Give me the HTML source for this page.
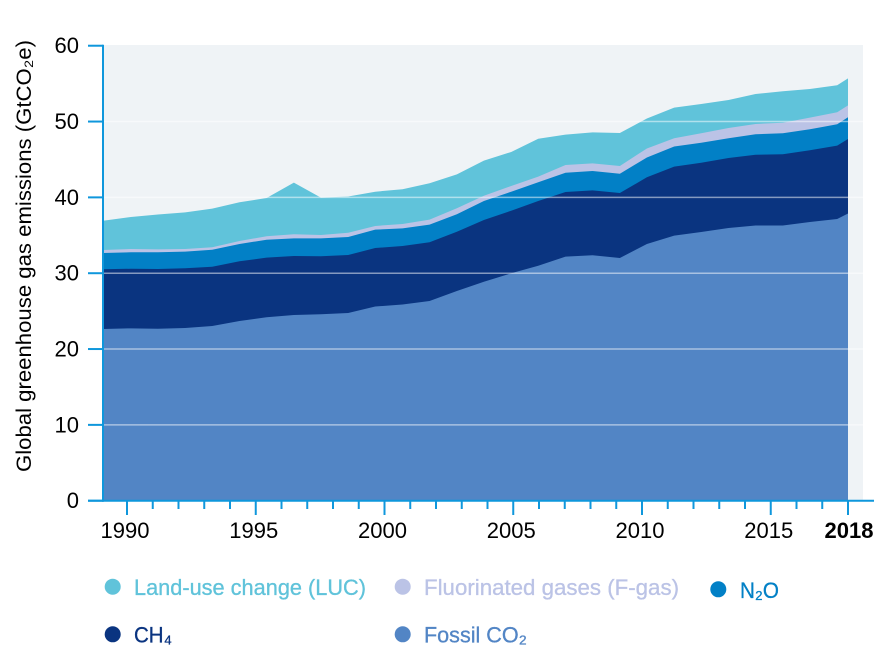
<!DOCTYPE html>
<html lang="en">
<head>
<meta charset="utf-8">
<title>Global greenhouse gas emissions</title>
<style>
  html, body { margin: 0; padding: 0; background: #ffffff; }
  body { width: 881px; height: 664px; overflow: hidden; }
  svg { display: block; font-family: "Liberation Sans", "DejaVu Sans", sans-serif; }
</style>
</head>
<body>
<svg id="chart" xmlns="http://www.w3.org/2000/svg" width="881" height="664" viewBox="0 0 881 664"></svg>
<script>
const sampleYears = [1989.07,1990.15,1991.20,1992.26,1993.31,1994.37,1995.42,1996.48,1997.53,1998.59,1999.64,2000.70,2001.75,2002.81,2003.86,2004.92,2005.97,2007.03,2008.08,2009.14,2010.19,2011.25,2012.30,2013.36,2014.41,2015.47,2016.52,2017.58,2018.00];
const fossilCo2 = [22.64,22.73,22.68,22.77,23.04,23.70,24.19,24.49,24.58,24.75,25.61,25.87,26.34,27.65,28.88,29.99,30.99,32.18,32.36,32.01,33.85,34.95,35.43,35.96,36.29,36.29,36.75,37.15,37.87];
const ch4 = [7.88,7.86,7.88,7.88,7.82,7.87,7.86,7.78,7.65,7.65,7.71,7.72,7.74,7.82,8.14,8.25,8.53,8.53,8.57,8.57,8.80,9.10,9.14,9.23,9.34,9.39,9.46,9.67,9.83];
const n2o = [2.15,2.17,2.20,2.19,2.24,2.28,2.37,2.33,2.37,2.38,2.42,2.33,2.32,2.30,2.50,2.51,2.47,2.54,2.55,2.54,2.61,2.66,2.64,2.60,2.69,2.77,2.77,2.82,2.86];
const fGas = [0.39,0.43,0.39,0.35,0.32,0.40,0.45,0.53,0.44,0.56,0.49,0.57,0.66,0.79,0.70,0.75,0.74,1.02,1.01,1.02,1.19,1.08,1.24,1.36,1.36,1.40,1.53,1.58,1.58];
const landUse = [3.86,4.22,4.59,4.84,5.09,5.10,5.05,6.81,4.92,4.78,4.52,4.58,4.80,4.48,4.62,4.49,5.01,4.00,4.09,4.35,3.95,4.04,3.86,3.69,3.95,4.14,3.78,3.56,3.56];
const yTicks = [0,10,20,30,40,50,60];
const xMajorTicks = [1990,1995,2000,2005,2010,2015,2018];
const xMinorTicks = [1991,1992,1993,1994,1996,1997,1998,1999,2001,2002,2003,2004,2006,2007,2008,2009,2011,2012,2013,2014,2016,2017];

const NS = 'http://www.w3.org/2000/svg';
const svg = document.getElementById('chart');
const AXIS = '#0f97dc';
const FONT_PX = 22;

function xScale(year) { return 127 + (year - 1990) * 25.75; }
function yScale(value) { return 500.7 - value * 7.583; }

function make(tag, attrs, text) {
  const el = document.createElementNS(NS, tag);
  for (const key in attrs) { el.setAttribute(key, attrs[key]); }
  if (text !== undefined) { el.textContent = text; }
  svg.appendChild(el);
  return el;
}

const plotBg = make('rect', { x: 103, y: 45, width: 760, height: 456, fill: '#eff3f6' });



const bands = [
  { name: 'area-fossil-co2', values: fossilCo2, color: '#5285c5' },
  { name: 'area-ch4', values: ch4, color: '#0a3480' },
  { name: 'area-n2o', values: n2o, color: '#0280c6' },
  { name: 'area-f-gas', values: fGas, color: '#bbc3e6' },
  { name: 'area-land-use-change', values: landUse, color: '#60c3da' }
];

// cumulative tops, then paint from the tallest band down so no seams show
const running = sampleYears.map(() => 0);
const stacked = bands.map(band => {
  band.values.forEach((v, i) => { running[i] += v; });
  return { name: band.name, color: band.color, tops: running.slice() };
});
stacked.slice().reverse().forEach(band => {
  let d = 'M' + xScale(sampleYears[0]).toFixed(2) + ' ' + yScale(0).toFixed(2);
  band.tops.forEach((v, i) => {
    d += 'L' + xScale(sampleYears[i]).toFixed(2) + ' ' + yScale(v).toFixed(2);
  });
  d += 'L' + xScale(sampleYears[sampleYears.length - 1]).toFixed(2) + ' ' + yScale(0).toFixed(2) + 'Z';
  const path = make('path', { d: d, fill: band.color });
  
  
});

yTicks.forEach(t => {
  if (t > 0 && t < 60) {
    const grid = make('line', { x1: 104, x2: 863, y1: yScale(t), y2: yScale(t), stroke: '#ffffff', 'stroke-width': 1.5, 'stroke-opacity': 0.5 });
    
    
  }
  const tick = make('line', { x1: 88, x2: 103, y1: yScale(t), y2: yScale(t), stroke: AXIS, 'stroke-width': 2 });
  
  
  const label = make('text', { x: 79, y: yScale(t) + 7.5, 'text-anchor': 'end', 'font-size': FONT_PX, fill: '#000000' }, String(t));
  
  
});

const yAxis = make('line', { x1: 103, x2: 103, y1: 44.7, y2: 501.7, stroke: AXIS, 'stroke-width': 2 });


const xAxis = make('line', { x1: 88, x2: 874, y1: 500.7, y2: 500.7, stroke: AXIS, 'stroke-width': 2 });



xMinorTicks.forEach(t => {
  const tick = make('line', { x1: xScale(t), x2: xScale(t), y1: 500.7, y2: 509, stroke: AXIS, 'stroke-width': 2 });
  
  
});
xMajorTicks.forEach(t => {
  const tick = make('line', { x1: xScale(t), x2: xScale(t), y1: 500.7, y2: 515, stroke: AXIS, 'stroke-width': 2 });
  
  
  const isLast = t === 2018;
  const label = make('text', {
    x: xScale(t) + (isLast ? 1 : -2), y: 538, 'text-anchor': 'middle',
    'font-size': FONT_PX, 'font-weight': isLast ? 'bold' : 'normal', fill: '#000000'
  }, String(t));
  
  
});

const yTitle = make('text', {
  transform: 'translate(31 472) rotate(-90)', 'font-size': 21, fill: '#000000',
  textLength: 432, lengthAdjust: 'spacingAndGlyphs'
}, 'Global greenhouse gas emissions (GtCO\u2082e)');



const legendEntries = [
  { key: 'land-use-change', label: 'Land-use change (LUC)', color: '#60c3da', cx: 112.7, cy: 586.7, tx: 134, ty: 595, w: 232 },
  { key: 'f-gas', label: 'Fluorinated gases (F-gas)', color: '#bbc3e6', cx: 402.7, cy: 586.7, tx: 424, ty: 595, w: 255 },
  { key: 'n2o', label: 'N\u2082O', color: '#0280c6', cx: 718.3, cy: 589.3, tx: 740, ty: 598, w: 39 },
  { key: 'ch4', label: 'CH\u2084', color: '#0a3480', cx: 112.7, cy: 634.3, tx: 134, ty: 642.7, w: 38 },
  { key: 'fossil-co2', label: 'Fossil CO\u2082', color: '#5285c5', cx: 402.7, cy: 634.3, tx: 424, ty: 642.7, w: 103 }
];
legendEntries.forEach(e => {
  const dot = make('circle', { cx: e.cx, cy: e.cy, r: 8, fill: e.color });
  
  
  const text = make('text', {
    x: e.tx, y: e.ty, 'font-size': 22, fill: e.color, stroke: e.color, 'stroke-width': 0.3,
    textLength: e.w, lengthAdjust: 'spacingAndGlyphs'
  }, e.label);
  
  
});
</script>
</body>
</html>
